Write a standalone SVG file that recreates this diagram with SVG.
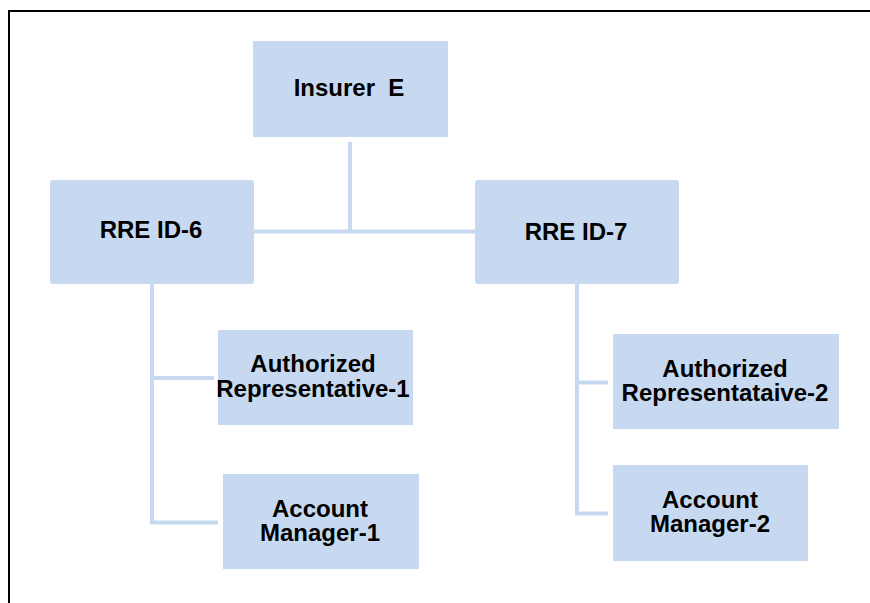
<svg xmlns="http://www.w3.org/2000/svg" width="870" height="603" viewBox="0 0 870 603">
<style>
.box{fill:#c6d9f0;}
.t{font-family:"Liberation Sans",Arial,sans-serif;font-weight:bold;font-size:24px;fill:#000;text-anchor:middle;}
.c{stroke:#c6d9f0;stroke-width:4;fill:none;}
</style>
<rect width="870" height="603" fill="#fff"/>
<path d="M9,603 V11 H870" stroke="#000" stroke-width="2" fill="none"/>
<g id="connectors">
<path class="c" d="M350,142 V231.5"/>
<path class="c" d="M254,231.5 H475"/>
<path class="c" d="M152,284 V522.5 H218"/>
<path class="c" d="M152,378 H214"/>
<path class="c" d="M577,284 V513.5 H608"/>
<path class="c" d="M577,382.5 H608"/>
</g>
<g id="insurer-e">
<rect class="box" x="253" y="41" width="195" height="96"/>
<text class="t" x="349" y="96" xml:space="preserve">Insurer  E</text>
</g>
<g id="rre-id-6">
<rect class="box" x="50" y="180" width="204" height="104" rx="3"/>
<text class="t" x="151" y="238">RRE ID-6</text>
</g>
<g id="rre-id-7">
<rect class="box" x="475" y="180" width="204" height="104" rx="3"/>
<text class="t" x="576" y="240">RRE ID-7</text>
</g>
<g id="auth-rep-1">
<rect class="box" x="218" y="330" width="195" height="95"/>
<text class="t" x="313" y="372">Authorized</text>
<text class="t" x="313" y="396.5">Representative-1</text>
</g>
<g id="account-manager-1">
<rect class="box" x="223" y="474" width="196" height="95"/>
<text class="t" x="320" y="516.5">Account</text>
<text class="t" x="320" y="541">Manager-1</text>
</g>
<g id="auth-rep-2">
<rect class="box" x="613" y="334" width="226" height="95"/>
<text class="t" x="725" y="376.5">Authorized</text>
<text class="t" x="725" y="400.5">Representataive-2</text>
</g>
<g id="account-manager-2">
<rect class="box" x="613" y="465" width="195" height="96"/>
<text class="t" x="710" y="507.5">Account</text>
<text class="t" x="710" y="532">Manager-2</text>
</g>
</svg>
